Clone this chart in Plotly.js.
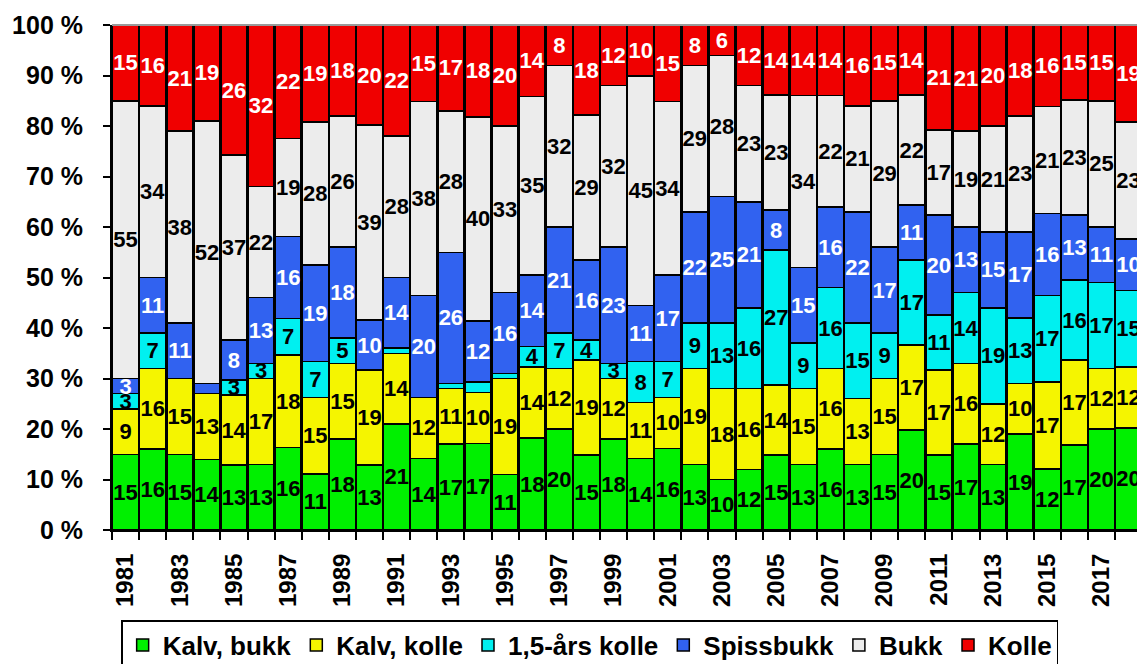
<!DOCTYPE html>
<html>
<head>
<meta charset="utf-8">
<script src="https://cdn.plot.ly/plotly-3.0.1.min.js"></script>
<style>html,body{margin:0;padding:0;background:#fff;}#chart{width:1137px;height:664px;}</style>
</head>
<body>
<div id="chart"></div>
<script>
const years = [1981,1982,1983,1984,1985,1986,1987,1988,1989,1990,1991,1992,1993,1994,1995,1996,1997,1998,1999,2000,2001,2002,2003,2004,2005,2006,2007,2008,2009,2010,2011,2012,2013,2014,2015,2016,2017,2018];

const kalvBukk   = [15,16,15,14,13,13,16,11,18,13,21,14,17,17,11,18,20,15,18,14,16,13,10,12,15,13,16,13,15,20,15,17,13,19,12,17,20,20];
const kalvKolle  = [9,16,15,13,14,17,18,15,15,19,14,12,11,10,19,14,12,19,12,11,10,19,18,16,14,15,16,13,15,17,17,16,12,10,17,17,12,12];
const aarsKolle  = [3,7,0,0,3,3,7,7,5,0,1,0,1,2,1,4,7,4,3,8,7,9,13,16,27,9,16,15,9,17,11,14,19,13,17,16,17,15];
const spissbukk  = [3,11,11,2,8,13,16,19,18,10,14,20,26,12,16,14,21,16,23,11,17,22,25,21,8,15,16,22,17,11,20,13,15,17,16,13,11,10];
const bukk       = [55,34,38,52,37,22,19,28,26,39,28,38,28,40,33,35,32,29,32,45,34,29,28,23,23,34,22,21,29,22,17,19,21,23,21,23,25,23];
const kolle      = [15,16,21,19,26,32,22,19,18,20,22,15,17,18,20,14,8,18,12,10,15,8,6,12,14,14,14,16,15,14,21,21,20,18,16,15,15,19];

const seriesNames = ['Kalv, bukk','Kalv, kolle','1,5-års kolle','Spissbukk','Bukk','Kolle'];
const seriesData = [kalvBukk, kalvKolle, aarsKolle, spissbukk, bukk, kolle];
const fillColors = ['#00f000','#f5f500','#00f0f0','#3162f0','#ececec','#f00000'];
const labelColors = ['#000','#000','#000','#fff','#000','#fff'];

const FONT = 'Liberation Sans, Arial, sans-serif';

const traces = seriesData.map((vals, i) => ({
  type: 'bar',
  name: seriesNames[i],
  x: years,
  y: vals,
  text: vals.map(v => v >= 3 ? String(v) : ''),
  texttemplate: '%{text}',
  textposition: 'inside',
  insidetextanchor: 'middle',
  constraintext: 'none',
  textangle: 0,
  textfont: {family: FONT, size: 22, color: labelColors[i], weight: 'bold'},
  marker: {color: fillColors[i], line: {color: '#000', width: 1.5}},
  hovertemplate: '%{x}: %{text}<extra>' + seriesNames[i] + '</extra>'
}));

const oddYears = years.filter(y => y % 2 === 1);

const layout = {
  width: 1137,
  height: 664,
  margin: {l: 112, r: 0, t: 25, b: 134},
  paper_bgcolor: '#fff',
  plot_bgcolor: '#fff',
  barmode: 'stack',
  barnorm: 'percent',
  bargap: 0.04,
  showlegend: true,
  font: {family: FONT, color: '#000'},
  xaxis: {
    type: 'linear',
    range: [1980.5, 2018.31],
    tickmode: 'array',
    tickvals: oddYears,
    ticktext: oddYears.map(String),
    tickangle: -90,
    tickfont: {family: FONT, size: 24, color: '#000', weight: 'bold'},
    ticks: '',
    ticklabelstandoff: 12,
    minor: {tick0: 1980.5, dtick: 1, ticks: 'outside', ticklen: 8, tickwidth: 1.5, tickcolor: '#000', showgrid: false},
    showline: true,
    linecolor: '#000',
    linewidth: 2,
    showgrid: false,
    zeroline: false,
    automargin: false,
    fixedrange: true
  },
  yaxis: {
    range: [0, 100],
    tickmode: 'linear',
    tick0: 0,
    dtick: 10,
    ticksuffix: ' %',
    tickfont: {family: FONT, size: 25, color: '#000', weight: 'bold'},
    ticks: 'outside',
    ticklen: 7,
    tickwidth: 1.5,
    tickcolor: '#000',
    ticklabelstandoff: 15,
    showline: true,
    linecolor: '#000',
    linewidth: 2,
    showgrid: false,
    zeroline: false,
    automargin: false,
    fixedrange: true
  },
  legend: {
    orientation: 'h',
    traceorder: 'normal',
    xref: 'paper',
    x: 0.466,
    xanchor: 'center',
    yref: 'container',
    y: 0.066,
    yanchor: 'top',
    font: {family: FONT, size: 26, color: '#000', weight: 'bold'},
    bordercolor: '#000',
    borderwidth: 1.5,
    bgcolor: '#fff'
  },
  shapes: [{type: 'line', xref: 'paper', yref: 'paper', x0: 0, x1: 1, y0: 1, y1: 1, line: {color: '#9a9a9a', width: 2}}]
};

Plotly.newPlot('chart', traces, layout, {displayModeBar: false});
</script>
</body>
</html>
